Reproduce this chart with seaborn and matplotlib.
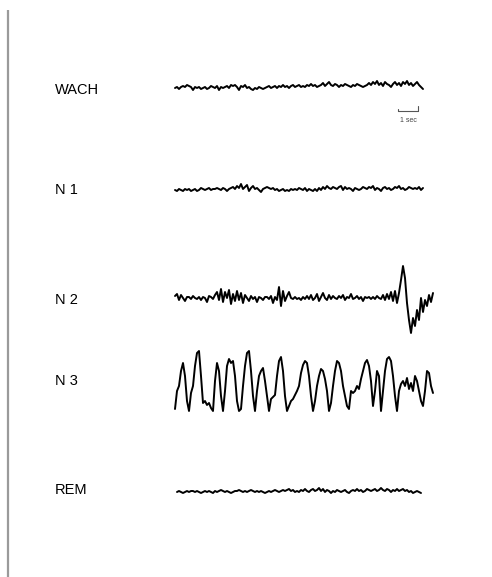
import numpy as np
import pandas as pd
import matplotlib
matplotlib.use("Agg")
import matplotlib.pyplot as plt
import seaborn as sns

# ---- data (amplitude, positive = up; one sample every 0.1 s) ----
stages = ["WACH", "N 1", "N 2", "N 3", "REM"]

wach = [0,1,-1,1,2,1,3,2,1,-2, 1,0,1,-1,0,1,-1,0,2,1, 0,2,-2,1,0,1,2,0,3,2,
        3,1,-2,2,1,3,0,1,-1,-2, 0,-1,1,0,-1,0,1,2,0,1, 2,0,2,1,3,1,2,0,2,3,
        1,2,3,1,2,1,3,2,4,2, 3,1,2,3,5,2,4,6,3,2, 4,3,1,3,2,4,3,2,1,3,
        2,4,3,2,1,2,3,5,3,6, 4,7,3,5,2,6,4,3,1,4, 6,3,5,2,6,4,7,3,5,2,
        4,6,3,1,-1]

n1 = [0,-1,1,0,-1,1,0,1,-1,0, 1,-1,0,2,1,0,1,2,0,1, 1,2,1,0,2,1,-1,1,2,3,
      1,4,2,6,1,3,5,-1,2,4, 1,2,0,-2,1,2,3,2,1,2, 0,1,-1,0,1,-1,0,-1,1,0,
      1,0,2,1,0,2,-1,1,0,-1, 1,-1,2,0,3,1,4,2,1,3, 2,1,3,4,0,3,1,2,1,-1,
      2,1,0,1,3,2,1,3,2,4, 0,2,1,-1,2,3,1,2,0,1, 3,2,4,1,2,0,1,3,2,1,
      2,1,3,0,2]

n2 = [2,4,-2,3,0,-3,1,1,-1,2,0,
      -1,1,-2,1,0,-4,2,1,-1,3,
      6,-2,9,-4,6,0,8,-6,4,-3,7,-2,5,-5,3,
      0,-3,2,-1,1,-4,1,0,-2,1,1,-1,2,-5,1,
      -2,11,-8,7,-3,2,6,0,-1,1,
      -1,0,-2,1,-1,2,-1,3,-2,0,4,-3,1,5,0,-2,3,-1,2,0,
      -1,2,0,3,-2,1,0,4,-1,0,2,-1,1,-3,1,
      0,1,-1,1,-1,2,0,-1,3,-2,4,-1,6,-3,7,
      -5,5,18,32,
      20,-5,-22,-35,-20,-28,
      -12,-22,0,-14,-2,-8,3,-4,5]

n3 = [-28,-10,-5,10,18,5,-20,-30,-12,-5,
      15,28,30,5,-22,-20,-24,-22,-27,-30,
      0,18,10,-15,-30,-10,15,22,18,20,
      5,-20,-30,-28,-5,15,28,30,10,-15,
      -30,-10,5,10,13,0,-15,-30,-18,-16,
      -14,5,20,24,10,-15,-30,-25,-20,-18,
      -14,-10,-5,8,16,20,18,5,-15,-30,
      -20,-5,5,12,10,2,-10,-30,-22,-5,
      10,20,18,10,-5,-15,-25,-28,-10,-12,
      -10,-5,-8,2,10,18,21,15,0,-25,
      -10,10,5,-30,-10,10,22,24,20,5,
      -15,-30,-10,-3,0,-5,3,-8,-2,-10,
      5,0,-10,-20,-25,-10,10,8,-5,-12]

rem = [0,1,0,-1,0,1,0,1,1,0, 1,0,-1,0,1,0,1,0,-1,1, 0,1,2,1,0,1,0,-1,0,1,
       1,2,1,0,1,0,1,2,1,0, 1,0,1,0,-1,0,1,0,1,2, 1,0,1,2,1,2,3,1,2,0,
       1,0,2,1,3,1,0,2,3,1, 2,4,1,3,0,2,1,-1,1,0, 2,1,0,1,2,0,-1,1,2,1,
       3,1,2,0,1,3,2,1,2,3, 1,2,4,2,1,3,2,0,2,1, 3,1,2,3,1,2,0,1,-1,0,
       1,0,-1]

traces = [wach, n1, n2, n3, rem]
dt = 0.1            # seconds per sample
starts = [0.0, 0.0, 0.0, 0.0, 0.1]   # trace start (s)
rows = [88, 190, 298, 381, 492]      # baseline row of each stage
label_rows = [90, 190, 300, 381, 490]

frames = []
for name, vals, t0, base in zip(stages, traces, starts, rows):
    v = np.asarray(vals, dtype=float)
    frames.append(pd.DataFrame({"stage": name,
                                "t": t0 + np.arange(len(v)) * dt,
                                "y": base - v}))
df = pd.concat(frames, ignore_index=True)

# ---- figure ----
sns.set_style("white")
plt.rcParams["font.family"] = ["Liberation Sans", "DejaVu Sans"]

fig = plt.figure(figsize=(4.92, 5.77), dpi=100)
ax = fig.add_axes([0, 0, 1, 1])
ax.set_xlim(-8.75, 15.85)
ax.set_ylim(577, 0)
ax.axis("off")

for name in stages:
    sub = df[df["stage"] == name]
    sns.lineplot(data=sub, x="t", y="y", ax=ax, color="black", lw=1.4,
                 sort=False, estimator=None, legend=False)

for name, yl in zip(stages, label_rows):
    ax.text(-6.0, yl, name, fontsize=10.5, color="black",
            ha="left", va="center")

# scale bar: 1 sec
ax.plot([11.15, 12.15], [111, 111], color="#555555", lw=0.8)
ax.plot([11.15, 11.15], [109, 111], color="#555555", lw=0.8)
ax.plot([12.15, 12.15], [106, 111], color="#555555", lw=0.8)
ax.text(11.65, 120, "1 sec", fontsize=5, color="#444444", ha="center", va="center")

# left border line
ax.plot([-8.35, -8.35], [10, 577], color="#9a9a9a", lw=1.6, solid_capstyle="butt")

fig.savefig("out.png", dpi=100)
